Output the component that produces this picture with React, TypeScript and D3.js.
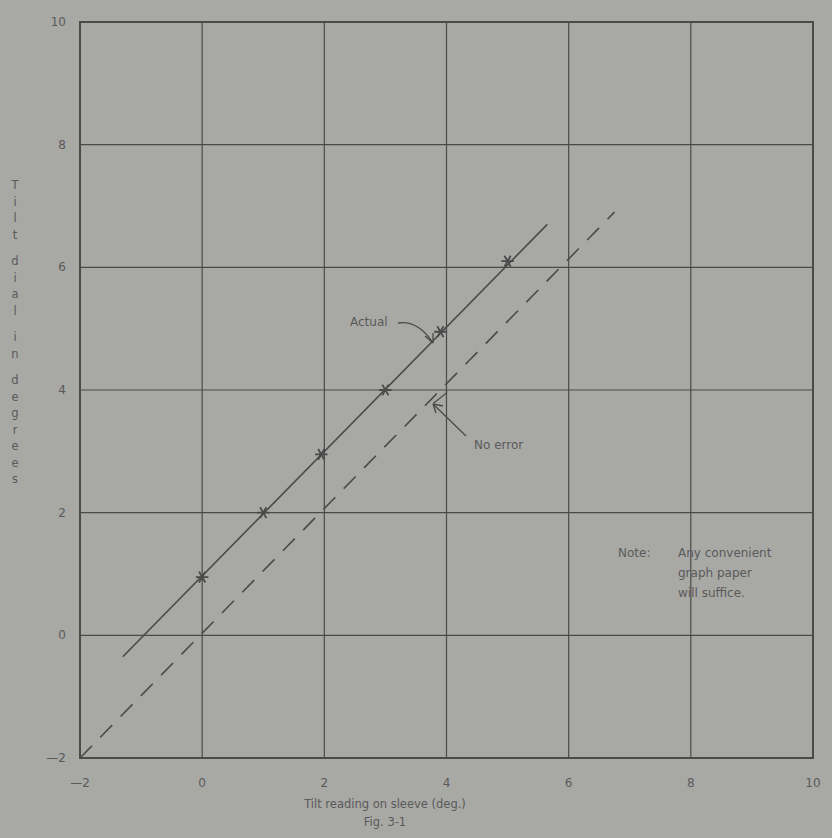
import React from "react";
import * as d3 from "d3";

const xTicks = [-2, 0, 2, 4, 6, 8, 10];
const yTicks = [-2, 0, 2, 4, 6, 8, 10];
const actualPointsX = [0, 1, 1.95, 3.0, 3.9, 5.0];
const actualPointsY = [0.95, 2.0, 2.95, 4.0, 4.95, 6.1];
const actualLineX = [-1.3, 5.65];
const actualLineY = [-0.35, 6.7];
const noErrorLineX = [-2, 6.75];
const noErrorLineY = [-2, 6.9];
const yLabelLetters = ["T", "i", "l", "t", "", "d", "i", "a", "l", "", "i", "n", "", "d", "e", "g", "r", "e", "e", "s"];

const W = 832, H = 838;
const BG = "#a8a8a5";
const INK = "#4a4a4a";
const TXT = "#5a5a5a";
const FONT = "'DejaVu Sans', 'Open Sans', sans-serif";

export default function App() {
  const x = d3.scaleLinear().domain([-2, 10]).range([80, 813]);
  const y = d3.scaleLinear().domain([-2, 10]).range([758, 22]);
  const line = d3.line<[number, number]>().x(d => x(d[0])).y(d => y(d[1]));
  const star = d3.symbol(d3.symbolAsterisk, 110)() as string;

  const actualLine: [number, number][] = actualLineX.map((v, i) => [v, actualLineY[i]]);
  const noErrLine: [number, number][] = noErrorLineX.map((v, i) => [v, noErrorLineY[i]]);

  let yy = 185;
  const letters: { ch: string; y: number }[] = [];
  yLabelLetters.forEach(ch => {
    if (ch === "") { yy += 10; return; }
    letters.push({ ch, y: yy });
    yy += 16.5;
  });

  return (
    <svg width={W} height={H} style={{ position: "absolute", left: 0, top: 0 }} fontFamily={FONT}>
      <rect x={0} y={0} width={W} height={H} fill={BG} />
      {xTicks.map(t => (
        <line key={"gx" + t} x1={x(t)} x2={x(t)} y1={y(-2)} y2={y(10)} stroke={INK} strokeWidth={1.2} />
      ))}
      {yTicks.map(t => (
        <line key={"gy" + t} x1={x(-2)} x2={x(10)} y1={y(t)} y2={y(t)} stroke={INK} strokeWidth={1.2} />
      ))}
      <rect x={x(-2)} y={y(10)} width={x(10) - x(-2)} height={y(-2) - y(10)} fill="none" stroke={INK} strokeWidth={2} />
      {xTicks.map(t => (
        <text key={"tx" + t} x={x(t)} y={787} textAnchor="middle" fontSize={12} fill={TXT}>
          {t < 0 ? "\u2014" + Math.abs(t) : t}
        </text>
      ))}
      {yTicks.map(t => (
        <text key={"ty" + t} x={x(-2) - 14} y={y(t) + 4} textAnchor="end" fontSize={12} fill={TXT}>
          {t < 0 ? "\u2014" + Math.abs(t) : t}
        </text>
      ))}
      <path d={line(noErrLine) as string} fill="none" stroke={INK} strokeWidth={1.6} strokeDasharray="17,12" />
      <path d={line(actualLine) as string} fill="none" stroke={INK} strokeWidth={1.6} />
      {actualPointsX.map((v, i) => (
        <path key={"p" + i} d={star} transform={`translate(${x(v)},${y(actualPointsY[i])}) rotate(90)`} fill="none" stroke={INK} strokeWidth={1.8} />
      ))}
      <text x={350} y={326} fontSize={12} fill={TXT}>Actual</text>
      <path d={`M398,323 Q418,320 433,343`} fill="none" stroke={INK} strokeWidth={1.3} />
      <path d={`M433,343 L425,336 M433,343 L433,333`} fill="none" stroke={INK} strokeWidth={1.3} />
      <text x={474} y={449} fontSize={12} fill={TXT}>No error</text>
      <path d={`M466,436 L433,404`} fill="none" stroke={INK} strokeWidth={1.3} />
      <path d={`M433,404 L443,406 M433,404 L436,413`} fill="none" stroke={INK} strokeWidth={1.3} />
      <path d={`M${x(4)},${y(4)} L${x(4)},${y(4) + 3} L${x(3.78)},${y(3.78)}`} fill="none" stroke={INK} strokeWidth={1.3} />
      <text x={618} y={557} fontSize={12} fill={TXT}>Note:</text>
      <text x={678} y={557} fontSize={12} fill={TXT}>Any convenient</text>
      <text x={678} y={577} fontSize={12} fill={TXT}>graph paper</text>
      <text x={678} y={597} fontSize={12} fill={TXT}>will suffice.</text>
      <text x={385} y={808} textAnchor="middle" fontSize={11.5} fill={TXT}>Tilt reading on sleeve (deg.)</text>
      <text x={385} y={826} textAnchor="middle" fontSize={11.5} fill={TXT}>Fig. 3-1</text>
      {letters.map((l, i) => (
        <text key={"yl" + i} x={15} y={l.y + 4} textAnchor="middle" fontSize={11.5} fill={TXT}>{l.ch}</text>
      ))}
    </svg>
  );
}
